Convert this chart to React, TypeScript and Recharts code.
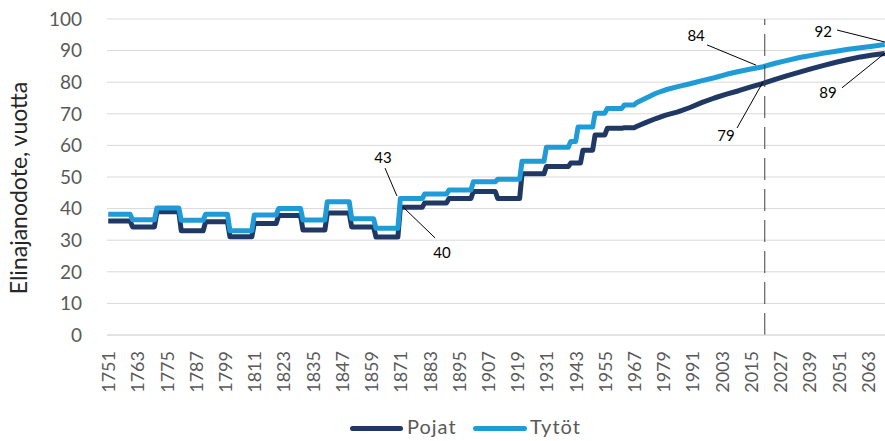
import React from 'react';
import {
  LineChart,
  Line,
  XAxis,
  YAxis,
  CartesianGrid,
  Legend,
  ReferenceLine,
  ReferenceDot,
} from 'recharts';

// years where one of the two series changes value (period life tables, then yearly/projection)
const years = [
  1751, 1760, 1761, 1770, 1771, 1780, 1781, 1790, 1791, 1800, 1801, 1810, 1811, 1820, 1821, 1830,
  1831, 1840, 1841, 1850, 1851, 1860, 1861, 1870, 1871, 1880, 1881, 1890, 1891, 1900, 1901, 1910,
  1911, 1920, 1921, 1930, 1931, 1940, 1941, 1943, 1944, 1945, 1946, 1950, 1951, 1955, 1956, 1962,
  1963, 1967, 1968, 1972, 1976, 1980, 1985, 1990, 1995, 2000, 2005, 2010, 2015, 2020, 2025, 2030,
  2035, 2040, 2045, 2050, 2055, 2060, 2065, 2070,
];

const pojat = [
  36.1, 36.1, 34.2, 34.2, 39.0, 39.0, 33.0, 33.0, 35.8, 35.8, 31.1, 31.1, 35.3, 35.3, 37.8, 37.8,
  33.2, 33.2, 38.6, 38.6, 34.2, 34.2, 31.0, 31.0, 40.4, 40.4, 41.8, 41.8, 43.2, 43.2, 45.4, 45.4,
  43.2, 43.2, 51.0, 51.0, 53.3, 53.3, 54.4, 54.4, 54.4, 54.4, 58.5, 58.5, 63.3, 63.3, 65.4, 65.4,
  65.6, 65.6, 66.0, 67.3, 68.5, 69.6, 70.6, 72.0, 73.6, 75.0, 76.2, 77.3, 78.5, 79.6, 80.9, 82.1,
  83.2, 84.3, 85.3, 86.3, 87.2, 88.0, 88.6, 89.1,
];

const tytot = [
  38.2, 38.2, 36.5, 36.5, 40.2, 40.2, 36.3, 36.3, 38.2, 38.2, 33.0, 33.0, 38.0, 38.0, 40.0, 40.0,
  36.4, 36.4, 42.2, 42.2, 36.8, 36.8, 33.8, 33.8, 43.2, 43.2, 44.6, 44.6, 45.9, 45.9, 48.5, 48.5,
  49.3, 49.3, 55.0, 55.0, 59.4, 59.4, 61.2, 61.2, 65.8, 65.8, 65.8, 65.8, 70.2, 70.2, 71.7, 71.7,
  72.8, 72.8, 73.5, 75.0, 76.5, 77.6, 78.6, 79.5, 80.5, 81.4, 82.5, 83.4, 84.2, 84.9, 86.0, 86.9,
  87.8, 88.5, 89.2, 89.8, 90.4, 90.9, 91.4, 91.9,
];

const xTicks = [
  1751, 1763, 1775, 1787, 1799, 1811, 1823, 1835, 1847, 1859, 1871, 1883, 1895, 1907, 1919, 1931,
  1943, 1955, 1967, 1979, 1991, 2003, 2015, 2027, 2039, 2051, 2063,
];
const yTicks = [0, 10, 20, 30, 40, 50, 60, 70, 80, 90, 100];

// callouts: text position and leader line, in data units
const callouts = [
  { text: '43', tx: 1863.9, ty: 56.0, line: [[1864.7, 52.8], [1869.6, 44.0]] },
  { text: '40', tx: 1888.1, ty: 25.9, line: [[1872.1, 40.5], [1885.3, 30.7]] },
  { text: '84', tx: 1992.5, ty: 94.6, line: [[1997.0, 91.8], [2017.1, 85.4]] },
  { text: '79', tx: 2004.8, ty: 63.0, line: [[2009.3, 65.5], [2020.0, 80.1]] },
  { text: '92', tx: 2044.7, ty: 95.9, line: [[2050.4, 96.5], [2070.1, 92.7]] },
  { text: '89', tx: 2046.7, ty: 76.6, line: [[2052.4, 78.2], [2070.1, 89.2]] },
];

const data = years.map((year, i) => ({ year, Pojat: pojat[i], 'Tytöt': tytot[i] }));

const NAVY = '#1f3864';
const BLUE = '#1f9bd7';
const FONT = 'Lato, "Open Sans", sans-serif';

const XTick = (props: any) => {
  const { x, y, payload } = props;
  return (
    <text
      x={x}
      y={y}
      transform={`rotate(-90 ${x} ${y})`}
      textAnchor="end"
      dominantBaseline="central"
      fontSize={18}
      fontFamily={FONT}
      fill="#595959"
    >
      {payload.value}
    </text>
  );
};

const LegendContent = () => (
  <div style={{ position: 'relative', height: 40, fontFamily: FONT, color: '#595959' }}>
    <div style={{ position: 'absolute', left: 350, top: 6, width: 53, height: 5, borderRadius: 3, background: NAVY }} />
    <div style={{ position: 'absolute', left: 407, top: -4, fontSize: 20, lineHeight: '20px', letterSpacing: 1 }}>Pojat</div>
    <div style={{ position: 'absolute', left: 473, top: 6, width: 54, height: 5, borderRadius: 3, background: BLUE }} />
    <div style={{ position: 'absolute', left: 530, top: -4, fontSize: 20, lineHeight: '20px', letterSpacing: 1 }}>Tytöt</div>
  </div>
);

export default function App() {
  return (
    <div style={{ position: 'absolute', left: 0, top: 0, width: 885, height: 441, overflow: 'hidden', background: '#fff' }}>
      <LineChart
        width={890}
        height={460}
        data={data}
        margin={{ top: 19, right: 4, bottom: 0, left: 0 }}
      >
        <CartesianGrid vertical={false} stroke="#d9d9d9" />
        <XAxis
          dataKey="year"
          type="number"
          domain={[1750.5, 2070.5]}
          ticks={xTicks}
          interval={0}
          tick={<XTick />}
          tickSize={0}
          tickMargin={16}
          tickLine={false}
          axisLine={{ stroke: '#d9d9d9' }}
          height={85}
          allowDataOverflow
        />
        <YAxis
          domain={[0, 100]}
          ticks={yTicks}
          interval={0}
          width={107}
          tickSize={0}
          tickMargin={25}
          axisLine={false}
          tickLine={false}
          tick={{ fontSize: 19, fill: '#595959', fontFamily: FONT }}
          label={{
            content: () => (
              <text
                x={18}
                y={188}
                transform="rotate(-90 18 188)"
                textAnchor="middle"
                dominantBaseline="central"
                fontSize={23}
                fontFamily={FONT}
                fill="#262626"
              >
                Elinajanodote, vuotta
              </text>
            ),
          }}
        />
        <Legend verticalAlign="bottom" content={<LegendContent />} />
        <Line
          type="linear"
          dataKey="Pojat"
          stroke={NAVY}
          strokeWidth={5}
          strokeLinejoin="round"
          dot={false}
          activeDot={false}
          isAnimationActive={false}
        />
        <Line
          type="linear"
          dataKey="Tytöt"
          stroke={BLUE}
          strokeWidth={5}
          strokeLinejoin="round"
          dot={false}
          activeDot={false}
          isAnimationActive={false}
        />
        <ReferenceLine x={2020.7} stroke="#404040" strokeWidth={1} strokeDasharray="22 9" />
        {callouts.map((c) => (
          <ReferenceLine
            key={'l' + c.text}
            segment={[
              { x: c.line[0][0], y: c.line[0][1] },
              { x: c.line[1][0], y: c.line[1][1] },
            ]}
            stroke="#000"
            strokeWidth={1}
          />
        ))}
        {callouts.map((c) => (
          <ReferenceDot
            key={'t' + c.text}
            x={c.tx}
            y={c.ty}
            r={0}
            fill="none"
            stroke="none"
            label={{ value: c.text, position: 'center', fontSize: 15, fill: '#000', fontFamily: FONT }}
          />
        ))}
      </LineChart>
    </div>
  );
}
